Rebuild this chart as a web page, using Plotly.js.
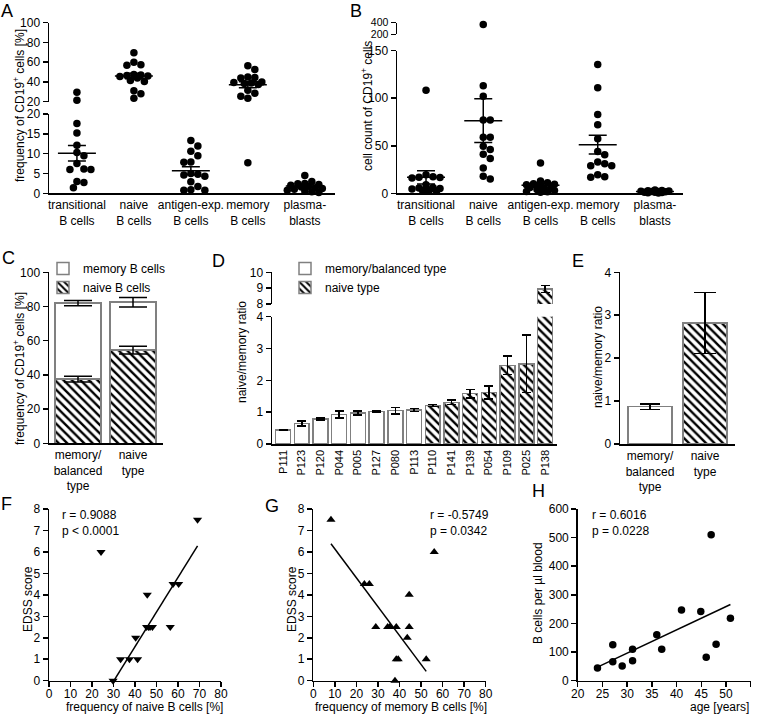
<!DOCTYPE html>
<html>
<head>
<meta charset="utf-8">
<script src="https://cdn.plot.ly/plotly-3.0.1.min.js"></script>
<style>
  body { margin: 0; background: #fff; }
  #chart { width: 757px; height: 715px; }
</style>
</head>
<body>
<div id="chart"></div>
<script>
// ---------- data ----------
// A / B: five B cell subsets
const cellTypes = ['transitional<br>B cells', 'naive<br>B cells', 'antigen-exp.<br>B cells', 'memory<br>B cells', 'plasma-<br>blasts'];

// A: frequency of CD19+ cells [%]
const freqTransitional = [29.5, 21.4, 17.6, 15.2, 12.1, 10.3, 9.5, 7.5, 6.1, 6.0, 6.0, 3.0, 2.7, 1.4];
const freqNaive = [69.5, 60, 57.5, 57, 47.5, 47, 46.5, 46, 45.5, 44, 41.5, 40.5, 31, 28, 23.5];
const freqAntigen = [13.3, 11.9, 10.6, 9.5, 7.9, 7.8, 5.0, 4.8, 4.6, 4.3, 2.9, 1.7, 0.9, 0.8, 0.8];
const freqMemory = [56.5, 52.5, 45, 44.5, 44, 40, 39.5, 39, 38.5, 37.5, 31.5, 28.5, 25.5, 23.5, 7.7];
const freqPlasma = [4.5, 3.0, 2.5, 2.4, 2.2, 2.0, 1.8, 1.6, 1.4, 1.2, 1.0, 0.8, 0.6, 0.4, 0.2];
const freqMean = [10.1, 46.0, 5.7, 37.2, 1.85];
const freqSem = [1.95, 2.8, 1.0, 3.0, 0.3];

// B: cell count of CD19+ cells
const countTransitional = [108.5, 19.5, 17.5, 17, 16.5, 16, 9, 6, 5.5, 5, 4.5, 4, 3.5, 3, 2.5];
const countNaive = [370, 113, 102, 77, 77, 59, 59, 49.5, 46, 41, 36.5, 26.5, 18, 15];
const countAntigen = [32, 13, 11, 10, 9.5, 9, 8, 7, 6, 5, 4, 3, 2, 1.5, 1];
const countMemory = [135.5, 111, 83, 72, 57.5, 44, 40.5, 33, 31, 29, 29, 19.5, 17.5, 17];
const countPlasma = [3.5, 3, 2.8, 2.5, 2.2, 2, 1.8, 1.5, 1.2, 1, 0.8, 0.5, 0.3];
const countMean = [16.8, 76.4, 8.4, 51.2, 2.0];
const countSem = [7.0, 23.0, 2.0, 9.8, 0.3];

// C: stacked naive / memory frequency per patient type
const patientTypes = ['memory/<br>balanced<br>type', 'naive<br>type'];
const cNaive = [37.5, 54.5];
const cNaiveErr = [1.7, 2.3];
const cMemory = [44.5, 28.0];
const cMemoryErr = [1.5, 2.8];

// D: naive/memory ratio per patient
const dPatients = ['P111', 'P123', 'P120', 'P044', 'P005', 'P127', 'P080', 'P113',
                   'P110', 'P141', 'P139', 'P054', 'P109', 'P025', 'P138'];
const dRatio = [0.44, 0.64, 0.78, 0.93, 0.97, 1.02, 1.05, 1.07, 1.21, 1.31, 1.58, 1.62, 2.47, 2.52, 8.94];
const dErr = [0.02, 0.08, 0.03, 0.11, 0.06, 0.02, 0.1, 0.05, 0.03, 0.07, 0.13, 0.2, 0.29, 0.9, 0.22];
const dMemoryCount = 8; // first 8 patients are memory/balanced type

// E: group means of the ratio
const eRatio = [0.87, 2.82];
const eErr = [0.065, 0.71];

// F / G: EDSS vs naive / memory frequency
const fNaive = [69.1, 24.2, 57.7, 60.3, 45.7, 45.4, 46.3, 47.0, 48.1, 56.4, 40.3, 33.3, 37.4, 41.2, 29.8];
const gMemory = [8.2, 56.1, 23.7, 26.0, 44.5, 29.0, 34.5, 35.5, 38.5, 44.5, 43.6, 38.5, 39.4, 52.4, 37.9];
const edss = [7.5, 6, 4.5, 4.5, 4, 2.5, 2.5, 2.5, 2.5, 2.5, 2, 1, 1, 1, 0];
const fitExclude = [1];

// H: B cells per ul blood vs age
const hAge = [24, 27.1, 27.1, 29, 31.1, 31.1, 36, 37, 41, 44.9, 47, 46, 48, 50.9];
const hBcells = [44, 126, 66, 51, 110, 70, 161, 110, 247, 242, 510, 82, 127, 218];

// ---------- helpers ----------
const W = 757, H = 715;
const FONT = 'Liberation Sans, Arial, sans-serif';
const STEP = 3.5;   // swarm offset step (px)
const MIN_D = 7;    // min distance between dots (px)

function dx(a, b) { return [a / W, b / W]; }
function dy(top, bottom) { return [1 - bottom / H, 1 - top / H]; }

function axisBase(extra) {
    return Object.assign({
        showline: true, linecolor: '#000', linewidth: 1.5,
        ticks: 'outside', ticklen: 5, tickwidth: 1.5, tickcolor: '#000',
        showgrid: false, zeroline: false, fixedrange: true,
        tickfont: { family: FONT, size: 12, color: '#000' }
    }, extra);
}

function ann(text, px, py, extra) {
    return Object.assign({
        text: text, xref: 'paper', yref: 'paper', x: px / W, y: 1 - py / H,
        xanchor: 'center', yanchor: 'middle', showarrow: false,
        font: { family: FONT, size: 12, color: '#000' }
    }, extra);
}

// pick a horizontal offset for a dot, staying within maxW px of the centre
function swarmOffset(placed, py, maxW) {
    let best = 0, bestD = -1;
    for (let k = 0; ; k++) {
        const cand = (k % 2 ? 1 : -1) * Math.ceil(k / 2) * STEP;
        if (Math.abs(cand) > maxW) break;
        let minD = Infinity;
        placed.forEach(p => { minD = Math.min(minD, Math.hypot(p.x - cand, p.y - py)); });
        if (minD >= MIN_D) return cand;
        if (minD > bestD + 0.5) { best = cand; bestD = minD; }
    }
    return best;
}

// scatter dot plot with mean and SEM, over a broken y axis
function dotPlot(groups, means, sems, segs, catPx, maxW) {
    const traces = [];
    const pts = segs.map(() => ({ x: [], y: [] }));

    groups.forEach((vals, i) => {
        const placed = [];
        vals.slice().sort((a, b) => b - a).forEach(v => {
            const si = v > segs[0].hi ? 1 : 0;
            const s = segs[si];
            const py = s.bottom - (v - s.lo) / (s.hi - s.lo) * (s.bottom - s.top);
            const ox = swarmOffset(placed, py, maxW);
            placed.push({ x: ox, y: py });
            pts[si].x.push(i + ox / catPx);
            pts[si].y.push(v);
        });

        const ms = means[i] > segs[0].hi ? segs[1] : segs[0];
        const half = 19 / catPx;
        traces.push({
            x: [i - half, i + half], y: [means[i], means[i]], xaxis: ms.x, yaxis: ms.y,
            type: 'scatter', mode: 'lines', line: { color: '#000', width: 1.5 },
            hoverinfo: 'skip', showlegend: false
        });
        traces.push({
            x: [i], y: [means[i]], xaxis: ms.x, yaxis: ms.y,
            type: 'scatter', mode: 'markers', marker: { size: 1, color: 'rgba(0,0,0,0)' },
            error_y: { type: 'data', array: [sems[i]], color: '#000', thickness: 1.5, width: 9 },
            hoverinfo: 'skip', showlegend: false
        });
    });

    segs.forEach((s, si) => {
        traces.unshift({
            x: pts[si].x, y: pts[si].y, xaxis: s.x, yaxis: s.y,
            type: 'scatter', mode: 'markers', cliponaxis: false,
            marker: { size: 7.5, color: '#000' },
            hoverinfo: 'skip', showlegend: false
        });
    });
    return traces;
}

function fitLine(xs, ys, skip) {
    const px = [], py = [];
    xs.forEach((x, i) => { if (!skip.includes(i)) { px.push(x); py.push(ys[i]); } });
    const n = px.length;
    const mx = px.reduce((a, b) => a + b, 0) / n;
    const my = py.reduce((a, b) => a + b, 0) / n;
    let sxy = 0, sxx = 0;
    for (let i = 0; i < n; i++) {
        sxy += (px[i] - mx) * (py[i] - my);
        sxx += (px[i] - mx) * (px[i] - mx);
    }
    const slope = sxy / sxx;
    const x0 = Math.min(...px), x1 = Math.max(...px);
    return { x: [x0, x1], y: [my + slope * (x0 - mx), my + slope * (x1 - mx)] };
}

const barLine = { color: '#808080', width: 1.5 };
const hatch = { shape: '\\', fgcolor: '#000', bgcolor: '#fff', size: 6, solidity: 0.4 };
const errStyle = { type: 'data', color: '#000', thickness: 1.5 };

// ---------- traces ----------
const segA = [
    { lo: 0, hi: 20, top: 114, bottom: 193.3, x: 'x', y: 'y2' },
    { lo: 20, hi: 100, top: 22.7, bottom: 101.7, x: 'x', y: 'y' }
];
const segB = [
    { lo: 0, hi: 150, top: 50.7, bottom: 193.3, x: 'x2', y: 'y4' },
    { lo: 200, hi: 400, top: 22.7, bottom: 34.3, x: 'x2', y: 'y3' }
];

let traces = [];
traces = traces.concat(dotPlot(
    [freqTransitional, freqNaive, freqAntigen, freqMemory, freqPlasma],
    freqMean, freqSem, segA, 57, 20));
traces = traces.concat(dotPlot(
    [countTransitional, countNaive, countAntigen, countMemory, countPlasma],
    countMean, countSem, segB, 57.25, 16));

// C: stacked bars
traces.push({
    x: patientTypes, y: cNaive, xaxis: 'x3', yaxis: 'y5', type: 'bar', width: 0.84,
    name: 'naive B cells', legend: 'legend',
    marker: { color: '#fff', line: barLine, pattern: hatch }, hoverinfo: 'skip'
});
traces.push({
    x: patientTypes, y: cMemory, xaxis: 'x3', yaxis: 'y5', type: 'bar', width: 0.84,
    name: 'memory B cells', legend: 'legend',
    marker: { color: '#fff', line: barLine }, hoverinfo: 'skip'
});
traces.push({
    x: patientTypes, y: cNaive, xaxis: 'x3', yaxis: 'y5', type: 'scatter', mode: 'markers',
    marker: { size: 1, color: 'rgba(0,0,0,0)' },
    error_y: Object.assign({ array: cNaiveErr, width: 14 }, errStyle),
    showlegend: false, hoverinfo: 'skip'
});
traces.push({
    x: patientTypes, y: cNaive.map((v, i) => v + cMemory[i]), xaxis: 'x3', yaxis: 'y5',
    type: 'scatter', mode: 'markers', marker: { size: 1, color: 'rgba(0,0,0,0)' },
    error_y: Object.assign({ array: cMemoryErr, width: 14 }, errStyle),
    showlegend: false, hoverinfo: 'skip'
});

// D: ratio bars with broken axis
const dMemX = dPatients.slice(0, dMemoryCount), dNaiveX = dPatients.slice(dMemoryCount);
traces.push({
    x: dMemX, y: dRatio.slice(0, dMemoryCount), xaxis: 'x4', yaxis: 'y7', type: 'bar', width: 0.8,
    name: 'memory/balanced type', legend: 'legend2',
    marker: { color: '#fff', line: barLine },
    error_y: Object.assign({ array: dErr.slice(0, dMemoryCount), width: 4.5 }, errStyle),
    hoverinfo: 'skip'
});
['y7', 'y6'].forEach((ya, k) => {
    traces.push({
        x: dNaiveX, y: dRatio.slice(dMemoryCount), xaxis: 'x4', yaxis: ya, type: 'bar', width: 0.8,
        name: 'naive type', legend: 'legend2', showlegend: k === 0,
        marker: { color: '#fff', line: barLine, pattern: hatch },
        error_y: Object.assign({ array: dErr.slice(dMemoryCount), width: 4.5 }, errStyle),
        hoverinfo: 'skip'
    });
});

// E: group means
traces.push({
    x: [patientTypes[0]], y: [eRatio[0]], xaxis: 'x5', yaxis: 'y8', type: 'bar', width: 0.8,
    marker: { color: '#fff', line: barLine },
    error_y: Object.assign({ array: [eErr[0]], width: 10 }, errStyle),
    showlegend: false, hoverinfo: 'skip'
});
traces.push({
    x: [patientTypes[1]], y: [eRatio[1]], xaxis: 'x5', yaxis: 'y8', type: 'bar', width: 0.8,
    marker: { color: '#fff', line: barLine, pattern: hatch },
    error_y: Object.assign({ array: [eErr[1]], width: 11 }, errStyle),
    showlegend: false, hoverinfo: 'skip'
});

// F, G, H: correlations
function corrTraces(xs, ys, xa, ya, symbol, skip) {
    const fit = fitLine(xs, ys, skip);
    return [{
        x: xs, y: ys, xaxis: xa, yaxis: ya, type: 'scatter', mode: 'markers', cliponaxis: false,
        marker: { symbol: symbol, size: symbol === 'circle' ? 7.5 : 8, color: '#000' },
        showlegend: false, hoverinfo: 'skip'
    }, {
        x: fit.x, y: fit.y, xaxis: xa, yaxis: ya, type: 'scatter', mode: 'lines',
        line: { color: '#000', width: 1.5 }, showlegend: false, hoverinfo: 'skip'
    }];
}
traces = traces.concat(corrTraces(fNaive, edss, 'x6', 'y9', 'triangle-down', fitExclude));
traces = traces.concat(corrTraces(gMemory, edss, 'x7', 'y10', 'triangle-up', fitExclude));
traces = traces.concat(corrTraces(hAge, hBcells, 'x8', 'y11', 'circle', []));

// ---------- layout ----------
const catX = (dom, range, anchor, extra) => axisBase(Object.assign({
    domain: dom, range: range, anchor: anchor, ticks: ''
}, extra));
const numX = (dom, range, anchor, dtick) => axisBase({
    domain: dom, range: range, anchor: anchor, dtick: dtick, ticklabelstandoff: -4
});

const layout = {
    width: W, height: H, autosize: false,
    margin: { l: 0, r: 0, t: 0, b: 0 },
    paper_bgcolor: '#fff', plot_bgcolor: 'rgba(0,0,0,0)',
    barmode: 'stack', hovermode: false,
    font: { family: FONT, size: 12, color: '#000' },

    // A
    xaxis: catX(dx(49, 335), [-0.49, 4.53], 'y2', { tickvals: [0, 1, 2, 3, 4], ticktext: cellTypes }),
    yaxis: axisBase({ domain: dy(22.7, 101.7), range: [20, 100], anchor: 'x', tickvals: [20, 40, 60, 80, 100] }),
    yaxis2: axisBase({ domain: dy(114, 193.3), range: [0, 20], anchor: 'x', dtick: 5 }),
    // B
    xaxis2: catX(dx(397, 683), [-0.507, 4.49], 'y4', { tickvals: [0, 1, 2, 3, 4], ticktext: cellTypes }),
    yaxis3: axisBase({
        domain: dy(22.7, 34.3), range: [200, 400], anchor: 'x2', tickvals: [200, 400],
        tickfont: { family: FONT, size: 10.5, color: '#000' }
    }),
    yaxis4: axisBase({ domain: dy(50.7, 193.3), range: [0, 150], anchor: 'x2', dtick: 50 }),
    // C
    xaxis3: catX(dx(49, 163), [-0.527, 1.545], 'y5', { type: 'category' }),
    yaxis5: axisBase({ domain: dy(272.3, 443.3), range: [0, 100], anchor: 'x3', dtick: 20 }),
    // D
    xaxis4: catX(dx(272, 557), [-0.59, 14.64], 'y7', {
        type: 'category', categoryorder: 'array', categoryarray: dPatients, tickangle: -90,
        tickfont: { family: FONT, size: 11, color: '#000' }
    }),
    yaxis6: axisBase({ domain: dy(272.3, 304), range: [8, 10], anchor: 'x4', dtick: 1 }),
    yaxis7: axisBase({ domain: dy(316.7, 444), range: [0, 4], anchor: 'x4', dtick: 1 }),
    // E
    xaxis5: catX(dx(620, 735), [-0.545, 1.545], 'y8', { type: 'category' }),
    yaxis8: axisBase({ domain: dy(272.3, 444), range: [0, 4], anchor: 'x5', dtick: 1 }),
    // F
    xaxis6: numX(dx(49, 221), [0, 80], 'y9', 10),
    yaxis9: axisBase({ domain: dy(509, 680.7), range: [0, 8], anchor: 'x6', dtick: 1 }),
    // G
    xaxis7: numX(dx(313.3, 485.7), [0, 80], 'y10', 10),
    yaxis10: axisBase({ domain: dy(509, 680.7), range: [0, 8], anchor: 'x7', dtick: 1 }),
    // H
    xaxis8: numX(dx(577.7, 750.7), [20, 55], 'y11', 5),
    yaxis11: axisBase({ domain: dy(509, 680.7), range: [0, 600], anchor: 'x8', dtick: 100 }),

    legend: {
        x: 43 / W, y: 1 - 254 / H, xanchor: 'left', yanchor: 'top',
        bgcolor: 'rgba(0,0,0,0)', traceorder: 'reversed', tracegroupgap: 0,
        font: { family: FONT, size: 12, color: '#000' }
    },
    legend2: {
        x: 285 / W, y: 1 - 254 / H, xanchor: 'left', yanchor: 'top',
        bgcolor: 'rgba(0,0,0,0)', traceorder: 'normal', tracegroupgap: 0,
        font: { family: FONT, size: 12, color: '#000' }
    },

    annotations: [
        // panel letters
        ann('A', 7, 11, { font: { family: FONT, size: 18, color: '#000' } }),
        ann('B', 356, 11, { font: { family: FONT, size: 18, color: '#000' } }),
        ann('C', 8, 258, { font: { family: FONT, size: 18, color: '#000' } }),
        ann('D', 218, 261, { font: { family: FONT, size: 18, color: '#000' } }),
        ann('E', 578, 261, { font: { family: FONT, size: 18, color: '#000' } }),
        ann('F', 6, 504, { font: { family: FONT, size: 18, color: '#000' } }),
        ann('G', 272, 506, { font: { family: FONT, size: 18, color: '#000' } }),
        ann('H', 538, 491, { font: { family: FONT, size: 18, color: '#000' } }),
        // axis titles
        ann('frequency of CD19<sup>+</sup> cells [%]', 19, 106, { textangle: -90 }),
        ann('cell count of CD19<sup>+</sup> cells', 367, 106, { textangle: -90 }),
        ann('frequency of CD19<sup>+</sup> cells [%]', 19, 369, { textangle: -90 }),
        ann('naive/memory ratio', 242, 352, { textangle: -90 }),
        ann('naive/memory ratio', 598, 357, { textangle: -90 }),
        ann('EDSS score', 28, 599, { textangle: -90 }),
        ann('EDSS score', 292, 599, { textangle: -90 }),
        ann('B cells per µl blood', 538, 593, { textangle: -90 }),
        ann('frequency of naive B cells [%]', 144, 707),
        ann('frequency of memory B cells [%]', 401, 707),
        ann('age [years]', 751, 707, { xanchor: 'right' }),
        // correlation stats
        ann('r = 0.9088', 60, 515, { xanchor: 'left' }),
        ann('p < 0.0001', 60, 531, { xanchor: 'left' }),
        ann('r = -0.5749', 428, 515, { xanchor: 'left' }),
        ann('p = 0.0342', 428, 531, { xanchor: 'left' }),
        ann('r = 0.6016', 590, 515, { xanchor: 'left' }),
        ann('p = 0.0228', 590, 531, { xanchor: 'left' })
    ]
};

Plotly.newPlot('chart', traces, layout, { displayModeBar: false, staticPlot: true });
</script>
</body>
</html>
